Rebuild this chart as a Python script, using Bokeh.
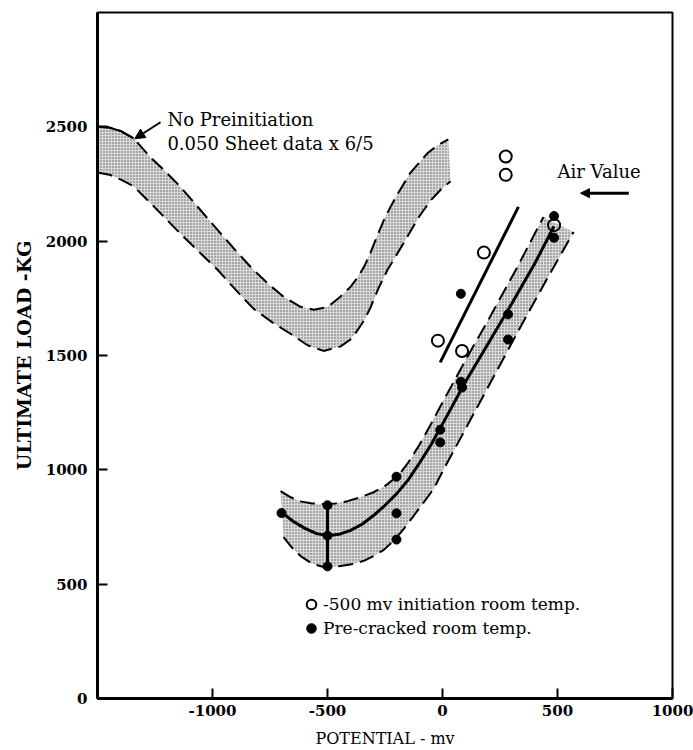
from bokeh.plotting import figure
from bokeh.models import (Range1d, FixedTicker, Arrow, NormalHead, Label,
                          Legend, LegendItem)
from bokeh.embed import file_html
from bokeh.resources import INLINE

# ---------------- data ----------------
x_ticks = [-1000, -500, 0, 500, 1000]
y_ticks = [0, 500, 1000, 1500, 2000, 2500]

# "No Preinitiation" band (0.050 sheet data x 6/5)
np_top_x = [-1500, -1450, -1400, -1343, -1270, -1200, -1139, -1060, -978, -900,
            -835, -760, -691, -617, -560, -500, -443, -400, -370, -340, -313,
            -285, -256, -226, -196, -139, -100, -65, -20, 25]
np_top_y = [2500, 2497, 2482, 2450, 2367, 2300, 2237, 2145, 2049, 1960,
            1888, 1815, 1757, 1713, 1700, 1712, 1758, 1800, 1840, 1890, 1950,
            2020, 2090, 2150, 2205, 2300, 2345, 2385, 2420, 2445]
np_bot_x = [-1500, -1443, -1400, -1343, -1270, -1200, -1126, -1050, -978, -920,
            -865, -822, -740, -661, -587, -517, -443, -400, -370, -340, -313,
            -280, -239, -200, -170, -100, -50, -9, 35]
np_bot_y = [2300, 2289, 2270, 2240, 2167, 2095, 2019, 1945, 1875, 1810,
            1750, 1705, 1645, 1595, 1545, 1520, 1540, 1570, 1610, 1655, 1710,
            1790, 1875, 1940, 1990, 2110, 2180, 2224, 2262]

# pre-cracked scatter band
pc_top_x = [-704, -660, -617, -567, -517, -465, -413, -357, -300, -255, -213,
            -180, -150, -100, -50, -9, 109, 200, 326, 439]
pc_top_y = [907, 880, 862, 853, 850, 853, 863, 880, 902, 925, 959,
            990, 1030, 1110, 1200, 1278, 1496, 1657, 1888, 2106]
pc_bot_x = [-691, -655, -617, -567, -517, -450, -387, -340, -300, -255, -213,
            -170, -126, -80, -39, 4, 165, 339, 457, 570]
pc_bot_y = [706, 660, 623, 590, 575, 578, 589, 603, 623, 650, 689,
            740, 798, 860, 916, 1000, 1300, 1625, 1840, 2040]

# mean curve for pre-cracked data
pc_mean_x = [-700, -650, -600, -550, -500, -450, -400, -350, -300, -250, -200,
             -150, -100, -50, 0, 100, 200, 300, 400, 485]
pc_mean_y = [815, 775, 745, 722, 712, 718, 735, 762, 800, 845, 895,
             955, 1030, 1110, 1200, 1385, 1555, 1725, 1900, 2065]

# fit line for -500 mv initiation data
init_fit_x = [-10, 330]
init_fit_y = [1470, 2150]

# -500 mv initiation, room temp. (open circles)
open_x = [-20, 85, 180, 275, 275, 485]
open_y = [1565, 1520, 1950, 2370, 2290, 2070]

# pre-cracked, room temp. (filled circles)
filled_x = [-700, -500, -500, -500, -200, -200, -200, -10, -10, 80, 85, 80,
            285, 285, 485, 485]
filled_y = [811, 845, 712, 578, 970, 810, 695, 1175, 1120, 1385, 1360, 1770,
            1680, 1570, 2110, 2015]

# scatter bar at -500 mv
bar_x = [-500]
bar_lo = [578]
bar_hi = [845]

# ---------------- figure ----------------
FONT = "DejaVu Serif"

p = figure(width=693, height=750,
           x_range=Range1d(-1500, 1000), y_range=Range1d(0, 3000),
           output_backend="svg", toolbar_location=None,
           min_border_left=97, min_border_right=21,
           min_border_top=12, min_border_bottom=50)

p.xgrid.visible = False
p.ygrid.visible = False
p.outline_line_color = "black"
p.outline_line_width = 2
p.outline_line_alpha = 1.0
p.background_fill_color = "white"
p.border_fill_color = "white"

for ax in (p.xaxis[0], p.yaxis[0]):
    ax.axis_line_width = 3
    ax.major_tick_in = 10
    ax.major_tick_out = 0
    ax.minor_tick_in = 0
    ax.minor_tick_out = 0
    ax.major_tick_line_width = 2
    ax.major_label_text_font = FONT
    ax.major_label_text_font_style = "bold"
    ax.major_label_text_font_size = "15px"
    ax.major_label_text_color = "black"
    ax.axis_label_text_font = FONT
    ax.axis_label_text_color = "black"

p.xaxis.ticker = FixedTicker(ticks=x_ticks)
p.yaxis.ticker = FixedTicker(ticks=y_ticks)
p.xaxis.major_label_overrides = {t: str(t) for t in x_ticks}
p.yaxis.major_label_overrides = {t: str(t) for t in y_ticks}
p.xaxis.axis_label = "POTENTIAL - mv"
p.xaxis.axis_label_text_font_style = "normal"
p.xaxis.axis_label_text_font_size = "16px"
p.xaxis.major_label_standoff = 6
p.xaxis.axis_label_standoff = 10
p.yaxis.axis_label = "ULTIMATE LOAD -KG"
p.yaxis.axis_label_text_font_style = "bold"
p.yaxis.axis_label_text_font_size = "19px"
p.yaxis.major_label_standoff = 10
p.yaxis.axis_label_standoff = 8

shade = dict(fill_color="#d9d9d9", hatch_pattern="dot", hatch_color="#5a5a5a",
             hatch_scale=3, hatch_weight=1, line_color=None)
dash = dict(line_color="black", line_width=2, line_dash="15 7")

# No-preinitiation band
p.patch(np_top_x + np_bot_x[::-1], np_top_y + np_bot_y[::-1], **shade)
p.line(np_top_x, np_top_y, **dash)
p.line(np_top_x[:4], np_top_y[:4], line_color="black", line_width=2)
p.line(np_bot_x, np_bot_y, **dash)

# pre-cracked band
p.patch(pc_top_x + pc_bot_x[::-1], pc_top_y + pc_bot_y[::-1], **shade)
p.line(pc_top_x, pc_top_y, **dash)
p.line(pc_bot_x, pc_bot_y, **dash)
p.line(pc_mean_x, pc_mean_y, line_color="black", line_width=3)
p.segment(x0=bar_x, y0=bar_lo, x1=bar_x, y1=bar_hi, line_color="black", line_width=3)

# initiation fit line
p.line(init_fit_x, init_fit_y, line_color="black", line_width=3)

r_open = p.scatter(open_x, open_y, marker="circle", size=12,
                   fill_color=None, line_color="black", line_width=2)
r_fill = p.scatter(filled_x, filled_y, marker="circle", size=9,
                   fill_color="black", line_color="black")

# annotations
p.add_layout(Arrow(end=NormalHead(size=10, fill_color="black", line_color="black"),
                   x_start=-1226, y_start=2520, x_end=-1338, y_end=2448,
                   line_width=2, line_color="black"))
p.add_layout(Arrow(end=NormalHead(size=9, fill_color="black", line_color="black"),
                   x_start=810, y_start=2210, x_end=600, y_end=2210,
                   line_width=3, line_color="black"))

lab = dict(text_font=FONT, text_font_size="18px", text_color="black",
           text_baseline="middle", text_align="left")
p.add_layout(Label(x=-1196, y=2530, text="No Preinitiation", **lab))
p.add_layout(Label(x=-1196, y=2425, text="0.050  Sheet data x 6/5", **lab))
p.add_layout(Label(x=500, y=2305, text="Air Value", **lab))

legend = Legend(items=[LegendItem(label="-500 mv initiation room temp.", renderers=[r_open]),
                       LegendItem(label="Pre-cracked room temp.", renderers=[r_fill])],
                location=(202, 58), border_line_color=None, background_fill_alpha=0,
                label_text_font=FONT, label_text_font_size="17px",
                label_text_color="black",
                glyph_width=24, glyph_height=24, label_height=24,
                spacing=0, padding=0, margin=0, label_standoff=0)
p.add_layout(legend)

open("out.html", "w").write(file_html(p, INLINE))
